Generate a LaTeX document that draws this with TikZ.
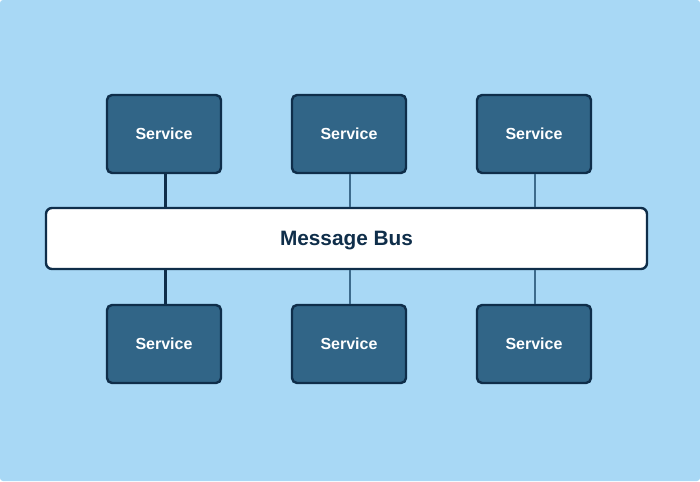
\documentclass[tikz,border=0pt]{standalone}
\usepackage{fontspec}
\setmainfont{Liberation Sans}
\usetikzlibrary{positioning}
\definecolor{skybg}{HTML}{A8D8F5}
\definecolor{boxfill}{HTML}{316587}
\definecolor{navyline}{HTML}{0F2E4A}
\definecolor{linklight}{HTML}{3D6B8C}
\tikzset{
  servicebox/.style={draw=navyline, line width=2.4pt, fill=boxfill, rounded corners=5pt,
    minimum width=114pt, minimum height=78pt, text=white, text depth=0pt,
    font=\fontsize{16}{19}\selectfont\bfseries},
  busbox/.style={draw=navyline, line width=2.4pt, fill=white, rounded corners=6pt,
    minimum width=601pt, minimum height=61pt, text=navyline, text depth=0pt,
    font=\fontsize{20.8}{25}\selectfont\bfseries},
  darklink/.style={draw=navyline, line width=2.6pt},
  lightlink/.style={draw=linklight, line width=2.4pt}
}
\begin{document}
\begin{tikzpicture}[x=1pt, y=-1pt]
        % Draw the background
        \fill[skybg, rounded corners=3pt] (0,0) rectangle (700,481);
        \useasboundingbox (0,0) rectangle (700,481);

        % Draw the message bus
        \node[busbox] (bus) at (346.5,238.5) {Message Bus};

        % Draw the services above and below the bus
        \node[servicebox] (top1) at (164,134) {Service};
        \node[servicebox, right=68.6pt of top1] (top2) {Service};
        \node[servicebox, right=68.6pt of top2] (top3) {Service};
        \node[servicebox] (bot1) at (164,344) {Service};
        \node[servicebox, right=68.6pt of bot1] (bot2) {Service};
        \node[servicebox, right=68.6pt of bot2] (bot3) {Service};

        % Connect the services to the bus
        \draw[darklink] (top1.south) ++(1.5pt,0) coordinate (t1) -- (t1 |- bus.north);
        \draw[darklink] (bot1.north) ++(1.5pt,0) coordinate (b1) -- (b1 |- bus.south);
        \foreach \s in {2,3} {
            \draw[lightlink] (top\s.south) ++(1pt,0) coordinate (t\s) -- (t\s |- bus.north);
            \draw[lightlink] (bot\s.north) ++(1pt,0) coordinate (b\s) -- (b\s |- bus.south);
        }
\end{tikzpicture}
\end{document}
